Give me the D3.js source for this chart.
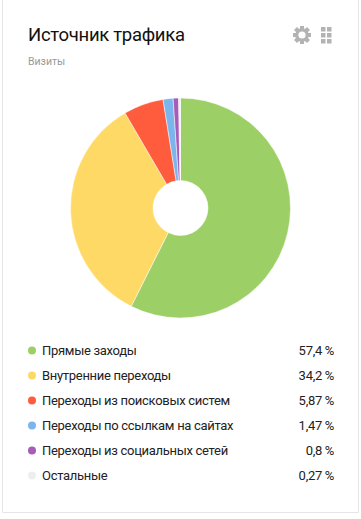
<!DOCTYPE html>
<html>
<head>
<meta charset="utf-8">
<script src="https://cdn.jsdelivr.net/npm/d3@7"></script>
<style>
  html, body { margin: 0; padding: 0; background: #fff; }
  svg { display: block; font-family: Roboto, sans-serif; }
</style>
</head>
<body>
<svg id="chart" width="361" height="519"></svg>
<script>
const categories = [
  "Прямые заходы",
  "Внутренние переходы",
  "Переходы из поисковых систем",
  "Переходы по ссылкам на сайтах",
  "Переходы из социальных сетей",
  "Остальные"
];
const values = [57.4, 34.2, 5.87, 1.47, 0.8, 0.27];
const valueLabels = ["57,4", "34,2", "5,87", "1,47", "0,8", "0,27"];
const colors = ["#9ccf66", "#ffd966", "#ff5c3d", "#7cb5ec", "#a65cb8", "#eeeeee"];

const svg = d3.select("#chart");

// card outline, top edge is cut off by the screenshot
svg.append("path")
  .attr("d", "M2.5,-1V512.5H358.5V-1")
  .attr("fill", "none")
  .attr("stroke", "#e6e6e6");

// --- Header ---
svg.append("text")
  .attr("x", 28)
  .attr("y", 41)
  .attr("fill", "#111")
  .style("font-size", "18.5px")
  .style("letter-spacing", "-0.3px")
  .text("Источник трафика");

svg.append("text")
  .attr("x", 28)
  .attr("y", 65)
  .attr("fill", "#999")
  .style("font-size", "10.5px")
  .text("Визиты");

// gear icon
const gear = svg.append("g").attr("transform", "translate(302,35)");
d3.range(8).forEach(i => {
  gear.append("rect")
    .attr("x", -2)
    .attr("y", -9)
    .attr("width", 4)
    .attr("height", 18)
    .attr("fill", "#b3b3b3")
    .attr("transform", `rotate(${i * 45})`);
});
gear.append("circle").attr("r", 5.2).attr("fill", "#fff").attr("stroke", "#b3b3b3").attr("stroke-width", 3.2);

// grid icon
const gridX = d3.scalePoint().domain([0, 1]).range([321, 327]);
const gridY = d3.scalePoint().domain([0, 1, 2]).range([27, 39]);
d3.cross([0, 1], [0, 1, 2]).forEach(([c, r]) => {
  svg.append("rect")
    .attr("x", gridX(c))
    .attr("y", gridY(r))
    .attr("width", 4.5)
    .attr("height", 4.5)
    .attr("fill", "#b3b3b3");
});

// --- Pie ---
const pie = d3.pie().sort(null)(values);
const arc = d3.arc().innerRadius(27.5).outerRadius(110);

svg.append("g")
  .attr("transform", "translate(180.5,208)")
  .selectAll("path")
  .data(pie)
  .enter()
  .append("path")
  .attr("d", arc)
  .attr("fill", (d, i) => colors[i])
  .attr("stroke", "#fff")
  .attr("stroke-width", 0.5);

// --- Legend ---
const rowY = d3.scalePoint().domain(d3.range(categories.length)).range([350.5, 475.5]);

const rows = svg.append("g")
  .selectAll("g")
  .data(categories)
  .enter()
  .append("g")
  .attr("transform", (d, i) => `translate(0,${rowY(i)})`);

rows.append("circle")
  .attr("cx", 32)
  .attr("r", 4)
  .attr("fill", (d, i) => colors[i]);

rows.append("text")
  .attr("x", 42)
  .attr("y", 4.5)
  .attr("fill", "#222")
  .style("font-size", "13px")
  .style("letter-spacing", "-0.3px")
  .text(d => d);

rows.append("text")
  .attr("x", 334)
  .attr("y", 4.5)
  .attr("text-anchor", "end")
  .attr("fill", "#222")
  .style("font-size", "13px")
  .style("letter-spacing", "-0.2px")
  .text((d, i) => `${valueLabels[i]}\u2009%`);
</script>
</body>
</html>
